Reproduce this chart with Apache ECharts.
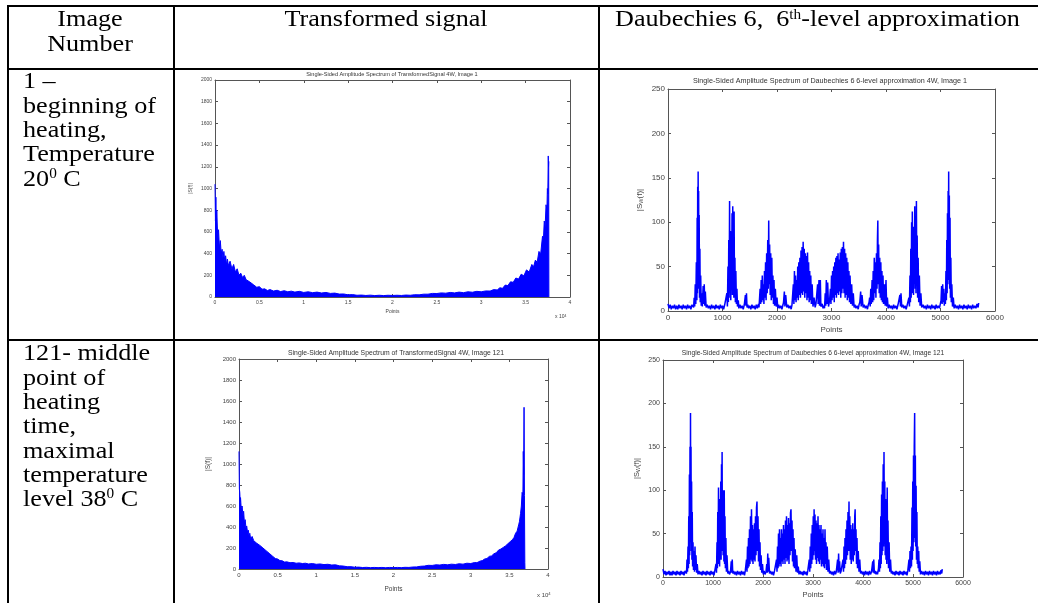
<!DOCTYPE html>
<html><head><meta charset="utf-8">
<script src="https://cdn.jsdelivr.net/npm/echarts@6/dist/echarts.min.js"></script>
<style>html,body{margin:0;padding:0;background:#fff}#c{width:1038px;height:603px}</style>
</head><body><div id="c"></div>
<script>
// ---------- DATA ----------
// Transformed signal spectra (x in units of 10^4 points)
const specImg1 = [[0,1040],[0.005,700],[0.01,920],[0.015,620],[0.02,800],[0.03,560],[0.04,620],[0.05,450],[0.06,520],[0.07,400],[0.08,440],[0.09,360],[0.1,420],[0.11,330],[0.12,380],[0.13,300],[0.14,350],[0.15,290],[0.17,330],[0.19,260],[0.21,300],[0.23,230],[0.25,260],[0.27,200],[0.29,220],[0.31,180],[0.33,200],[0.35,160],[0.37,175],[0.39,140],[0.41,150],[0.43,115],[0.45,120],[0.47,90],[0.5,95],[0.53,72],[0.56,75],[0.59,60],[0.62,68],[0.66,55],[0.7,62],[0.74,50],[0.78,58],[0.82,48],[0.86,54],[0.9,45],[0.95,52],[1.0,42],[1.05,48],[1.1,40],[1.15,45],[1.2,37],[1.25,42],[1.3,33],[1.35,36],[1.4,27],[1.45,28],[1.5,20],[1.55,22],[1.6,16],[1.65,18],[1.7,14],[1.75,17],[1.8,13],[1.85,16],[1.9,13],[1.95,16],[2.0,14],[2.05,16],[2.1,14],[2.15,18],[2.2,16],[2.25,21],[2.3,20],[2.35,26],[2.4,26],[2.45,33],[2.5,32],[2.55,38],[2.6,35],[2.65,42],[2.7,38],[2.75,45],[2.8,40],[2.85,48],[2.9,44],[2.95,52],[3.0,48],[3.05,56],[3.1,55],[3.14,68],[3.18,65],[3.21,85],[3.24,80],[3.27,110],[3.3,105],[3.33,140],[3.36,135],[3.39,175],[3.42,165],[3.45,210],[3.48,195],[3.51,250],[3.54,230],[3.57,300],[3.59,280],[3.61,340],[3.63,320],[3.65,420],[3.67,400],[3.69,560],[3.7,520],[3.71,700],[3.72,650],[3.73,850],[3.74,800],[3.745,1000],[3.75,950],[3.755,1300],[3.758,1200],[3.76,1250],[3.762,0]];
const specImg121 = [[0,1120],[0.005,760],[0.01,730],[0.015,640],[0.02,680],[0.03,560],[0.04,600],[0.05,520],[0.06,550],[0.07,440],[0.08,470],[0.09,390],[0.1,410],[0.11,350],[0.12,370],[0.13,320],[0.14,340],[0.15,290],[0.17,310],[0.19,270],[0.21,280],[0.23,245],[0.25,255],[0.27,225],[0.29,235],[0.31,200],[0.33,210],[0.35,175],[0.37,180],[0.39,150],[0.41,155],[0.43,125],[0.45,120],[0.47,100],[0.5,95],[0.53,80],[0.56,78],[0.59,66],[0.62,68],[0.66,60],[0.7,62],[0.74,55],[0.78,58],[0.82,52],[0.86,55],[0.9,48],[0.95,52],[1.0,45],[1.05,48],[1.1,42],[1.15,45],[1.2,38],[1.25,40],[1.3,30],[1.35,28],[1.4,22],[1.45,22],[1.5,17],[1.55,18],[1.6,14],[1.65,16],[1.7,13],[1.75,15],[1.8,13],[1.85,15],[1.9,12],[1.95,15],[2.0,13],[2.05,15],[2.1,13],[2.15,16],[2.2,15],[2.25,19],[2.3,20],[2.35,26],[2.4,28],[2.45,35],[2.5,34],[2.55,40],[2.6,38],[2.65,44],[2.7,40],[2.75,46],[2.8,43],[2.85,50],[2.9,46],[2.95,55],[3.0,52],[3.05,62],[3.08,60],[3.12,75],[3.15,80],[3.18,95],[3.21,100],[3.24,120],[3.27,125],[3.3,145],[3.33,155],[3.36,180],[3.39,190],[3.42,205],[3.45,220],[3.48,240],[3.51,260],[3.54,280],[3.56,300],[3.58,340],[3.6,360],[3.62,420],[3.63,450],[3.645,530],[3.655,600],[3.665,730],[3.675,700],[3.68,1120],[3.685,900],[3.69,1540],[3.695,700],[3.7,60],[3.702,0]];
// Daubechies 6, 6th-level approximation spectra (x in points)
const db6Img1 = [[0,8],[20,3],[40,7],[60,2],[80,6],[100,3],[120,7],[140,2],[160,6],[180,2],[200,7],[220,3],[240,6],[260,2],[280,7],[300,3],[320,6],[340,2],[360,7],[380,3],[400,6],[420,2],[440,7],[450,8],[470,4],
[480,15],[490,5],[500,30],[510,8],[520,55],[530,12],[535,105],[540,20],[545,140],[550,30],[553,157],[558,40],[562,135],[567,25],[572,108],[578,15],[585,70],[592,10],[600,40],[610,6],[620,20],[630,5],[645,28],[655,8],[665,30],[675,6],[685,22],[700,4],
[720,7],[740,3],[760,6],[780,2],[800,7],[820,3],[840,6],[860,2],[880,7],[900,3],[920,6],[940,2],[960,7],[980,3],[1000,6],[1020,2],[1040,7],[1060,8],
[1080,20],[1090,5],[1100,50],[1108,10],[1115,80],[1122,15],[1130,124],[1137,20],[1145,90],[1152,12],[1160,70],[1167,25],[1175,110],[1182,18],[1188,118],[1195,30],[1202,75],[1208,15],[1213,112],[1220,20],[1228,60],[1236,10],[1245,45],[1255,8],[1265,25],[1275,5],[1290,12],[1300,3],
[1320,7],[1340,3],[1360,6],[1380,2],[1400,7],[1410,8],[1420,18],[1430,6],[1440,20],[1450,4],[1465,7],[1480,3],[1500,6],[1520,2],[1540,7],[1560,3],[1580,6],[1600,2],[1620,7],[1640,3],[1660,8],[1670,4],
[1690,25],[1700,8],[1710,35],[1720,10],[1730,40],[1740,12],[1750,30],[1760,8],[1770,45],[1780,15],[1790,55],[1800,12],[1810,65],[1820,20],[1830,80],[1840,25],[1848,102],[1856,30],[1865,75],[1875,18],[1885,65],[1895,12],[1905,60],[1915,15],[1925,40],[1935,8],[1945,35],[1955,6],[1970,25],[1985,5],[2000,15],[2015,3],
[2030,7],[2050,3],[2070,6],[2090,2],[2110,7],[2120,10],[2135,22],[2145,5],[2160,18],[2180,4],[2200,7],[2220,3],[2240,6],[2260,2],[2275,7],[2290,8],
[2300,30],[2310,8],[2320,45],[2330,12],[2340,40],[2350,10],[2360,35],[2370,15],[2380,50],[2390,12],[2400,55],[2410,18],[2420,60],[2430,15],[2440,68],[2450,20],[2460,72],[2470,18],[2480,78],[2490,22],[2500,70],[2510,15],[2520,65],[2530,20],[2540,62],[2550,12],[2560,66],[2570,15],[2580,55],[2590,10],[2600,45],[2610,12],[2620,40],[2630,8],[2645,30],[2660,5],[2680,15],[2700,4],
[2715,8],[2730,10],[2745,30],[2755,8],[2770,35],[2780,6],[2795,35],[2805,5],[2818,7],[2830,8],[2845,3],[2860,6],[2872,3],[2885,20],[2895,6],[2905,35],[2915,8],[2930,32],[2945,5],[2965,12],
[2980,25],[2990,8],[3000,40],[3010,12],[3020,45],[3030,15],[3040,50],[3050,10],[3060,55],[3070,18],[3080,60],[3090,15],[3100,62],[3110,20],[3120,65],[3130,18],[3140,58],[3150,22],[3160,66],[3170,15],[3180,70],[3190,20],[3200,72],[3210,25],[3220,78],[3230,20],[3240,70],[3250,15],[3260,65],[3270,18],[3280,60],[3290,12],[3300,55],[3310,15],[3320,45],[3330,10],[3340,40],[3355,8],[3370,30],[3385,6],[3400,20],[3415,4],
[3430,7],[3450,3],[3470,6],[3490,2],[3505,7],[3520,10],[3535,22],[3545,5],[3560,18],[3580,4],[3600,7],[3620,3],[3640,6],[3660,2],[3675,7],[3690,10],
[3700,15],[3710,5],[3720,25],[3730,8],[3745,35],[3755,10],[3765,45],[3775,12],[3785,60],[3795,20],[3805,55],[3815,15],[3825,65],[3835,25],[3843,80],[3850,102],[3857,30],[3865,75],[3875,20],[3885,60],[3895,15],[3905,55],[3915,12],[3925,45],[3935,10],[3945,40],[3955,8],[3970,30],[3985,6],[4000,35],[4012,5],[4025,15],[4040,3],
[4060,7],[4080,3],[4100,6],[4120,2],[4140,7],[4160,3],[4180,6],[4200,2],[4220,7],[4240,6],[4255,18],[4265,5],[4275,20],[4290,4],[4310,7],[4330,3],[4350,6],[4370,2],[4390,7],[4410,8],
[4420,15],[4430,5],[4440,40],[4448,10],[4455,70],[4462,15],[4470,100],[4477,20],[4483,112],[4490,25],[4498,80],[4505,18],[4512,95],[4520,30],[4528,118],[4535,25],[4542,90],[4550,20],[4558,124],[4565,30],[4572,85],[4580,15],[4590,60],[4600,10],[4612,40],[4625,6],[4640,20],[4655,4],
[4680,7],[4700,3],[4720,6],[4740,2],[4760,7],[4780,3],[4800,6],[4820,2],[4840,7],[4860,3],[4880,6],[4900,2],[4920,7],[4940,3],[4960,6],[4980,3],
[5010,12],[5020,28],[5030,8],[5040,30],[5050,10],[5060,25],[5070,6],[5080,20],[5090,8],[5100,45],[5108,12],[5115,80],[5122,20],[5128,110],[5134,30],[5140,135],[5145,40],[5150,157],[5156,35],[5162,130],[5168,25],[5175,105],[5182,15],[5190,60],[5198,10],[5208,30],[5220,5],[5235,15],[5250,3],
[5270,7],[5290,3],[5310,6],[5330,2],[5350,7],[5370,3],[5390,6],[5410,2],[5430,7],[5450,3],[5470,6],[5490,2],[5510,7],[5530,3],[5550,6],[5570,2],[5590,7],[5610,3],[5630,6],[5650,3],[5670,8],[5690,4],[5700,9]];
const db6Img121 = [[0,9],[20,3],[40,7],[60,2],[80,6],[100,3],[120,7],[140,2],[160,6],[180,2],[200,7],[220,3],[240,6],[260,2],[280,7],[300,3],[320,6],[340,2],[360,7],[380,3],[400,6],[420,2],[440,7],[450,8],[470,4],
[480,20],[490,6],[500,35],[508,10],[515,70],[522,15],[528,118],[534,25],[540,150],[545,40],[550,189],[555,45],[560,150],[566,30],[572,110],[578,20],[585,75],[592,12],[600,40],[610,8],[620,30],[630,6],[640,35],[650,8],[660,25],[672,5],[685,15],[700,3],
[720,7],[740,3],[760,6],[780,2],[800,7],[820,3],[840,6],[860,2],[880,7],[900,3],[920,6],[940,2],[960,7],[980,3],[1000,6],[1020,2],[1035,7],[1050,8],
[1060,15],[1070,5],[1080,40],[1088,10],[1095,75],[1102,15],[1110,103],[1118,20],[1125,70],[1132,12],[1140,90],[1148,25],[1155,110],[1162,20],[1170,130],[1176,30],[1182,144],[1188,35],[1195,100],[1202,25],[1210,85],[1218,18],[1225,100],[1232,15],[1240,70],[1248,10],[1258,45],[1268,6],[1280,25],[1295,4],
[1312,7],[1330,3],[1350,6],[1365,18],[1375,5],[1385,20],[1395,4],[1412,7],[1430,3],[1450,6],[1470,2],[1490,7],[1510,3],[1530,6],[1550,2],[1570,7],[1590,3],[1610,6],[1630,2],[1645,7],[1660,8],
[1670,20],[1680,6],[1690,35],[1700,10],[1710,45],[1720,12],[1730,55],[1740,15],[1750,70],[1760,20],[1770,78],[1780,18],[1790,60],[1800,15],[1810,55],[1820,20],[1830,62],[1840,18],[1850,70],[1860,25],[1870,80],[1880,87],[1890,30],[1900,70],[1910,18],[1920,55],[1930,12],[1940,40],[1950,8],[1962,25],[1975,5],[1990,15],[2005,3],
[2022,7],[2040,3],[2060,6],[2075,15],[2085,5],[2095,27],[2105,6],[2115,22],[2130,4],[2150,7],[2170,3],[2190,6],[2210,2],[2230,7],[2250,8],
[2270,20],[2280,6],[2290,35],[2300,10],[2310,50],[2320,12],[2330,55],[2340,15],[2350,45],[2360,12],[2370,55],[2380,18],[2390,50],[2400,15],[2410,60],[2420,20],[2430,55],[2440,15],[2450,65],[2460,22],[2470,70],[2480,18],[2490,60],[2500,20],[2510,68],[2520,15],[2530,62],[2540,25],[2550,74],[2560,78],[2570,30],[2580,65],[2590,18],[2600,55],[2610,12],[2620,45],[2630,10],[2645,32],[2660,6],[2675,25],[2690,5],[2705,12],[2720,3],
[2740,7],[2760,3],[2780,6],[2800,2],[2820,7],[2840,3],[2860,6],[2880,2],[2895,7],[2910,8],
[2925,20],[2935,6],[2945,35],[2955,10],[2965,50],[2975,15],[2985,60],[2995,20],[3005,70],[3015,25],[3022,78],[3030,30],[3040,72],[3050,20],[3060,65],[3070,15],[3080,62],[3090,22],[3100,70],[3110,18],[3120,60],[3130,15],[3140,55],[3150,20],[3160,60],[3170,12],[3180,50],[3190,15],[3200,55],[3210,12],[3220,45],[3230,10],[3240,55],[3250,15],[3260,40],[3270,8],[3285,35],[3300,6],[3315,20],[3330,4],
[3350,7],[3370,3],[3390,6],[3410,2],[3430,7],[3450,3],[3465,6],[3480,4],[3492,20],[3502,5],[3512,27],[3522,6],[3532,18],[3545,4],[3562,7],[3580,8],
[3600,20],[3610,6],[3620,35],[3630,10],[3640,45],[3650,15],[3660,55],[3670,20],[3680,65],[3690,25],[3700,75],[3710,30],[3720,87],[3728,30],[3736,70],[3745,20],[3755,60],[3765,15],[3775,55],[3785,20],[3795,62],[3805,18],[3815,55],[3825,25],[3835,70],[3843,78],[3850,30],[3860,55],[3870,15],[3880,45],[3890,10],[3905,30],[3920,6],[3935,20],[3950,4],
[3970,7],[3990,3],[4010,6],[4030,2],[4050,7],[4070,3],[4090,6],[4110,2],[4130,7],[4150,3],[4170,6],[4185,5],[4195,18],[4205,5],[4215,20],[4228,4],[4245,7],[4260,3],[4275,6],[4290,3],[4310,10],
[4320,20],[4330,6],[4340,40],[4348,10],[4356,70],[4364,15],[4372,95],[4380,25],[4388,110],[4396,30],[4404,130],[4412,35],[4420,144],[4428,40],[4436,110],[4444,25],[4452,90],[4460,20],[4468,75],[4476,15],[4484,103],[4492,20],[4500,65],[4510,10],[4522,40],[4535,6],[4550,20],[4565,4],
[4580,7],[4600,3],[4620,6],[4640,2],[4660,7],[4680,3],[4700,6],[4720,2],[4740,7],[4760,3],[4780,6],[4800,2],[4820,7],[4840,3],[4860,6],[4880,2],[4895,7],[4910,8],
[4920,20],[4930,6],[4940,30],[4950,10],[4960,35],[4970,12],[4980,80],[4988,20],[4995,110],[5002,30],[5010,140],[5017,40],[5025,150],[5033,189],[5040,45],[5047,140],[5054,35],[5062,105],[5070,20],[5078,75],[5086,15],[5095,35],[5104,10],[5114,30],[5124,6],[5136,18],[5150,3],
[5170,7],[5190,3],[5210,6],[5230,2],[5250,7],[5270,3],[5290,6],[5310,2],[5330,7],[5350,3],[5370,6],[5390,2],[5410,7],[5430,3],[5450,6],[5470,2],[5490,7],[5510,3],[5530,6],[5545,3],[5560,8],[5575,4],[5585,9]];

const headerTexts = ['Image\nNumber', 'Transformed signal', '{a|Daubechies 6,  6}{s|th}{a|-level approximation}'];
const row1Text = '1 –\nbeginning of\nheating,\nTemperature\n20{s|0} C';
const row2Text = '121- middle\npoint of\nheating\ntime,\nmaximal\ntemperature\nlevel 38{s|0} C';
const plotTitles = [
  'Single-Sided Amplitude Spectrum of TransformedSignal 4W, Image 1',
  'Single-Sided Amplitude Spectrum of TransformedSignal 4W, Image 121',
  'Single-Sided Amplitude Spectrum of Daubechies 6 6-level approximation 4W, Image 1',
  'Single-Sided Amplitude Spectrum of Daubechies 6 6-level approximation 4W, Image 121'
];

// ---------- LAYOUT ----------
const grids = [
  {left:215, top:80,  width:355, height:217, xMax:4,    xInt:0.5,  yMax:2000, yInt:200, fs:5,   nameFs:5,   xGap:12, yGap:22, yName:'|S(f)|', tx:392, ty:71, tfs:5.6},
  {left:239, top:359, width:309, height:210, xMax:4,    xInt:0.5,  yMax:2000, yInt:200, fs:6,   nameFs:6.5, xGap:17, yGap:27, yName:'|S(f)|', tx:396, ty:349.5, tfs:6.8},
  {left:668, top:89,  width:327, height:222, xMax:6000, xInt:1000, yMax:250,  yInt:50,  fs:8,   nameFs:8,   xGap:15, yGap:24, yName:'|S{w|W}(f)|', tx:830, ty:77.5, tfs:7.2},
  {left:663, top:360, width:300, height:217, xMax:6000, xInt:1000, yMax:250,  yInt:50,  fs:7,   nameFs:7.5, xGap:14, yGap:22, yName:'|S{w|W}(f)|', tx:813, ty:349.5, tfs:6.7}
];
const seriesData = [specImg1, specImg121, db6Img1, db6Img121];

const axisGray = '#555';
const labelGray = '#444';
const plain = v => String(v);
const xAxes = [], yAxes = [];
grids.forEach((g, i) => {
  const line = {show:true, onZero:false, lineStyle:{color:axisGray, width:1}};
  const tick = {inside:true, length:3, lineStyle:{color:axisGray}};
  xAxes.push({type:'value', gridIndex:i, min:0, max:g.xMax, interval:g.xInt, position:'bottom',
    axisLine:line, axisTick:tick, splitLine:{show:false},
    axisLabel:{fontSize:g.fs, color:labelGray, margin:3, fontFamily:'Liberation Sans', formatter:plain},
    name:'Points', nameLocation:'middle', nameGap:g.xGap, nameTextStyle:{fontSize:g.nameFs, color:labelGray, fontFamily:'Liberation Sans'}});
  xAxes.push({type:'value', gridIndex:i, min:0, max:g.xMax, interval:g.xInt, position:'top',
    axisLine:line, axisTick:tick, splitLine:{show:false}, axisLabel:{show:false}});
  yAxes.push({type:'value', gridIndex:i, min:0, max:g.yMax, interval:g.yInt, position:'left',
    axisLine:line, axisTick:tick, splitLine:{show:false},
    axisLabel:{fontSize:g.fs, color:labelGray, margin:3, fontFamily:'Liberation Sans', formatter:plain},
    name:g.yName, nameLocation:'middle', nameGap:g.yGap, nameRotate:90,
    nameTextStyle:{fontSize:g.nameFs, color:labelGray, fontFamily:'Liberation Sans',
      rich:{w:{fontSize:g.nameFs*0.7, color:labelGray, verticalAlign:'bottom', padding:[g.nameFs*0.4,0,0,0]}}}});
  yAxes.push({type:'value', gridIndex:i, min:0, max:g.yMax, interval:g.yInt, position:'right',
    axisLine:line, axisTick:tick, splitLine:{show:false}, axisLabel:{show:false}});
});

const series = seriesData.map((d, i) => ({
  type:'line', xAxisIndex:i*2, yAxisIndex:i*2, data:d, symbol:'none', showSymbol:false,
  lineStyle:{color:'#0000ff', width: i < 2 ? 1 : 1.5}, itemStyle:{color:'#0000ff'},
  areaStyle: i < 2 ? {color:'#0000ff', opacity:1, origin:'start'} : undefined,
  animation:false, silent:true
}));

const titles = grids.map((g, i) => ({
  text: plotTitles[i], left: g.tx, top: g.ty, textAlign:'center', padding:0,
  textStyle:{fontSize:g.tfs, fontWeight:'normal', color:'#333', fontFamily:'Liberation Sans'}
}));

const serif = 'Liberation Serif';
const FS = 24, LH = 24.3, SX = 1.09;
const supRich = {
  a:{fontSize:FS, lineHeight:LH, fontFamily:serif, fill:'#000'},
  s:{fontSize:14, lineHeight:13, verticalAlign:'top', fontFamily:serif, fill:'#000'}
};
function line(x1,y1,x2,y2){return {type:'line', shape:{x1,y1,x2,y2}, style:{stroke:'#000', lineWidth:2}, silent:true};}
function txt(x,y,text,align){return {type:'text', x, y, scaleX:SX, scaleY:1, silent:true,
  style:{text, fontFamily:serif, fontSize:FS, lineHeight:LH, fill:'#000', align:align||'left', verticalAlign:'top', rich:supRich}};}
function xTen(x,y,fs){return {type:'text', x, y, silent:true,
  style:{text:'x 10{s|4}', fontFamily:'Liberation Sans', fontSize:fs, fill:labelGray, align:'left', verticalAlign:'top',
    rich:{s:{fontSize:fs*0.7, verticalAlign:'top', lineHeight:fs*0.7, fill:labelGray, fontFamily:'Liberation Sans'}}}};}

const graphic = [
  line(7,6,1038,6), line(8,5,8,603), line(174,5,174,603), line(599,5,599,603),
  line(7,69,1038,69), line(7,340,1038,340),
  txt(90,8,headerTexts[0],'center'),
  txt(386,8,headerTexts[1],'center'),
  txt(615,8,headerTexts[2],'left'),
  txt(23,70,row1Text,'left'),
  txt(23,342,row2Text,'left'),
  xTen(555,314,5), xTen(537,592,6)
];

const chart = echarts.init(document.getElementById('c'), null, {renderer:'canvas', width:1038, height:603});
chart.setOption({
  backgroundColor:'#fff', animation:false,
  title: titles,
  grid: grids.map(g => ({left:g.left, top:g.top, width:g.width, height:g.height, show:false})),
  xAxis: xAxes, yAxis: yAxes, series, graphic
});
</script></body></html>
